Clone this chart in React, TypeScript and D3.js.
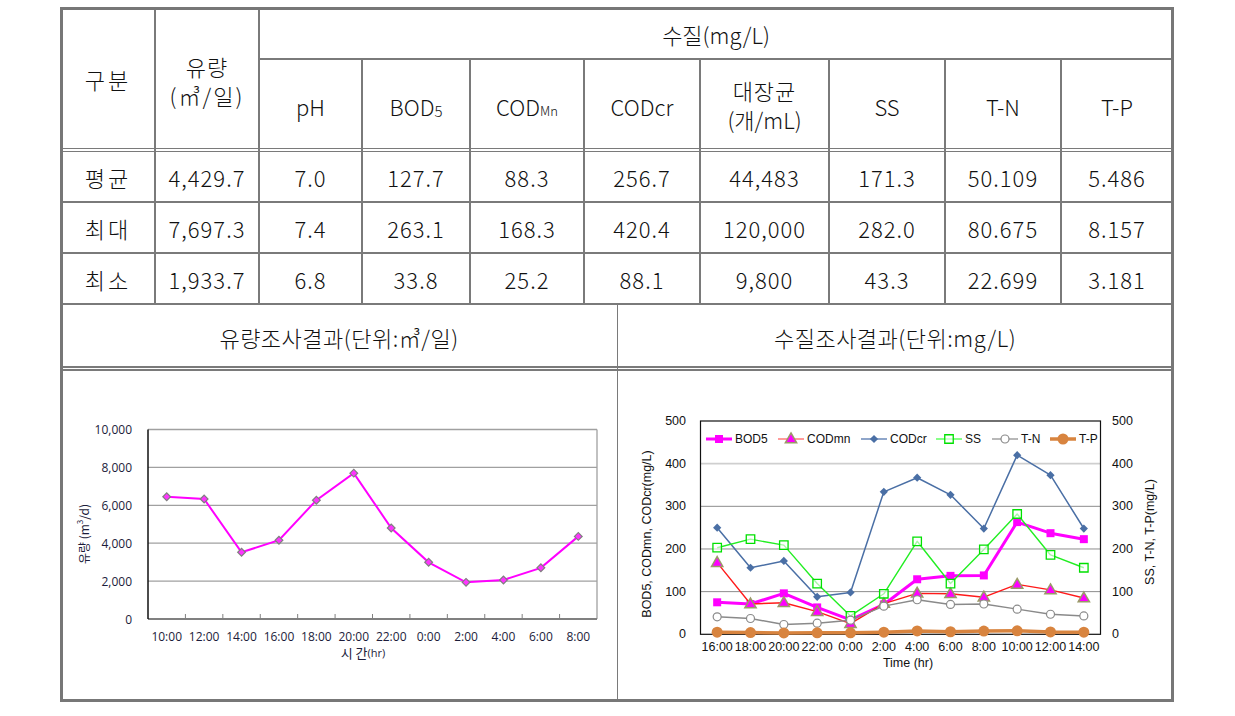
import React from 'react';
import * as d3 from 'd3';

// ---------- table data ----------
const ROW_LABELS = ['평균', '최대', '최소'];
const COL_FLOW = ['4,429.7', '7,697.3', '1,933.7'];
const COL_PH = ['7.0', '7.4', '6.8'];
const COL_BOD = ['127.7', '263.1', '33.8'];
const COL_CODMN = ['88.3', '168.3', '25.2'];
const COL_CODCR = ['256.7', '420.4', '88.1'];
const COL_ECOLI = ['44,483', '120,000', '9,800'];
const COL_SS = ['171.3', '282.0', '43.3'];
const COL_TN = ['50.109', '80.675', '22.699'];
const COL_TP = ['5.486', '8.157', '3.181'];

// ---------- flow chart data ----------
const FLOW_TIMES = ['10:00', '12:00', '14:00', '16:00', '18:00', '20:00', '22:00', '0:00', '2:00', '4:00', '6:00', '8:00'];
const FLOW = [6450, 6330, 3520, 4160, 6270, 7697, 4800, 2990, 1934, 2060, 2700, 4360];
const FLOW_TICKS = [0, 2000, 4000, 6000, 8000, 10000];

// ---------- water quality chart data ----------
const WQ_TIMES = ['16:00', '18:00', '20:00', '22:00', '0:00', '2:00', '4:00', '6:00', '8:00', '10:00', '12:00', '14:00'];
const BOD5 = [75, 71, 96, 63, 34, 70, 129, 137, 138, 263, 237, 223];
const CODMN = [168, 71, 74, 53, 25, 72, 96, 95, 87, 117, 104, 85];
const CODCR = [250, 156, 172, 88, 98, 334, 367, 327, 248, 420, 373, 248];
const SS = [203, 223, 209, 119, 43, 95, 218, 119, 199, 282, 186, 156];
const TN = [41, 37, 23, 26, 33, 66, 81, 70, 71, 59, 47, 43];
const TP = [5, 4, 3.2, 3.5, 3.5, 5, 8, 6, 7.5, 8.2, 5.5, 5];
const WQ_TICKS = [0, 100, 200, 300, 400, 500];

const KR = '"Noto Sans CJK KR", sans-serif';
const ARIAL = '"Liberation Sans", Arial, sans-serif';
const OPEN = '"Open Sans", "Noto Sans", sans-serif';
const LINE = '#7a7a7a';

function Cell({ x, y, children, size = 22, spacing = 0 }: any) {
  return (
    <text
      x={x}
      y={y}
      textAnchor="middle"
      dominantBaseline="central"
      fontFamily={KR}
      fontSize={size}
      fontWeight={300}
      letterSpacing={spacing}
      fill="#111"
    >
      {children}
    </text>
  );
}

function Marker({ kind, x, y }: { kind: string; x: number; y: number }) {
  const sq = d3.symbol().type(d3.symbolSquare);
  if (kind === 'bod') return <path d={sq.size(64)() as string} transform={`translate(${x},${y})`} fill="#ff00ff" />;
  if (kind === 'codmn')
    return (
      <path d={d3.symbol().type(d3.symbolTriangle).size(55)() as string} transform={`translate(${x},${y + 0.5})`} fill="#ff00ff" stroke="#9a9a68" strokeWidth={1.5} />
    );
  if (kind === 'codcr') return <path d={sq.size(34)() as string} transform={`translate(${x},${y}) rotate(45)`} fill="#4a6fa5" />;
  if (kind === 'ss') return <path d={sq.size(72)() as string} transform={`translate(${x},${y})`} fill="white" fillOpacity={0.6} stroke="#00e000" strokeWidth={1.3} />;
  if (kind === 'tn') return <circle cx={x} cy={y} r={4} fill="white" stroke="#8a8a8a" strokeWidth={1.2} />;
  if (kind === 'tp') return <circle cx={x} cy={y} r={5.5} fill="#d8843f" />;
  return null;
}

export default function App() {
  // ---------- table geometry ----------
  const colX = [61, 155, 259, 362, 470, 584, 700, 829, 945, 1061, 1173];
  const mid = (i: number) => (colX[i] + colX[i + 1]) / 2;
  const rowY = [152, 202, 253, 304];
  const rowMid = (i: number) => (rowY[i] + rowY[i + 1]) / 2;
  const cols = [COL_FLOW, COL_PH, COL_BOD, COL_CODMN, COL_CODCR, COL_ECOLI, COL_SS, COL_TN, COL_TP];

  // ---------- flow chart ----------
  const fx = d3.scaleBand().domain(FLOW_TIMES).range([148, 597]);
  const fy = d3.scaleLinear().domain([0, 10000]).range([619, 429.5]);
  const fcx = (t: string) => (fx(t) as number) + fx.bandwidth() / 2;
  const flowLine = d3.line<number>().x((_, i) => fcx(FLOW_TIMES[i])).y((d) => fy(d))(FLOW) as string;
  const fmt = d3.format(',');

  // ---------- water quality chart ----------
  const wx = d3.scaleBand().domain(WQ_TIMES).range([700.5, 1100.5]);
  const wy = d3.scaleLinear().domain([0, 500]).range([634.3, 421]);
  const wcx = (t: string) => (wx(t) as number) + wx.bandwidth() / 2;
  const wline = (arr: number[]) => d3.line<number>().x((_, i) => wcx(WQ_TIMES[i])).y((d) => wy(d))(arr) as string;

  const series = [
    { key: 'bod', name: 'BOD5', data: BOD5, color: '#ff00ff', width: 3, legendColor: '#ff00ff' },
    { key: 'codmn', name: 'CODmn', data: CODMN, color: '#ff1a1a', width: 1.4, legendColor: '#ff7070' },
    { key: 'codcr', name: 'CODcr', data: CODCR, color: '#4a6fa5', width: 1.5, legendColor: '#6a88b8' },
    { key: 'ss', name: 'SS', data: SS, color: '#22ee22', width: 1.4, legendColor: '#55ff55' },
    { key: 'tn', name: 'T-N', data: TN, color: '#8a8a8a', width: 1.4, legendColor: '#9a9a9a' },
    { key: 'tp', name: 'T-P', data: TP, color: '#d8843f', width: 3.5, legendColor: '#d8843f' },
  ];
  const legendX = [706, 778, 861, 936, 992, 1050];
  const legendY = 439;

  return (
    <svg width={1235} height={716} style={{ position: 'absolute', left: 0, top: 0, background: 'white' }}>
      <rect x={0} y={0} width={1235} height={716} fill="white" />

      {/* ---------- table lines ---------- */}
      <g stroke={LINE} strokeWidth={1.3} shapeRendering="crispEdges">
        <line x1={259} x2={1173} y1={59} y2={59} />
        <line x1={61} x2={1173} y1={148.5} y2={148.5} />
        <line x1={61} x2={1173} y1={151.5} y2={151.5} />
        <line x1={61} x2={1173} y1={202} y2={202} />
        <line x1={61} x2={1173} y1={253} y2={253} />
        <line x1={61} x2={1173} y1={304} y2={304} />
        <line x1={61} x2={1173} y1={367} y2={367} />
        <line x1={61} x2={1173} y1={370} y2={370} />
        <line x1={155} x2={155} y1={8} y2={304} />
        <line x1={259} x2={259} y1={8} y2={304} />
        {colX.slice(3, 10).map((x) => (
          <line key={x} x1={x} x2={x} y1={59} y2={304} />
        ))}
        <line x1={617.5} x2={617.5} y1={304} y2={702} />
      </g>
      <rect x={61.5} y={8.5} width={1111} height={692} fill="none" stroke="#777" strokeWidth={3} />

      {/* ---------- table headers ---------- */}
      <Cell x={108} y={79} spacing={3}>구분</Cell>
      <Cell x={207} y={66} spacing={1}>유량</Cell>
      <Cell x={207} y={95} spacing={2}>(㎥/일)</Cell>
      <Cell x={716} y={34}>수질(mg/L)</Cell>
      <Cell x={mid(2)} y={106}>pH</Cell>
      <text x={mid(3)} y={106} textAnchor="middle" dominantBaseline="central" fontFamily={KR} fontWeight={300} fontSize={22} fill="#111">
        BOD<tspan fontSize={15} dy={4}>5</tspan>
      </text>
      <text x={mid(4)} y={106} textAnchor="middle" dominantBaseline="central" fontFamily={KR} fontWeight={300} fontSize={22} fill="#111">
        COD<tspan fontSize={13} dy={4}>Mn</tspan>
      </text>
      <Cell x={mid(5)} y={106}>CODcr</Cell>
      <Cell x={mid(6)} y={90} spacing={1}>대장균</Cell>
      <Cell x={mid(6)} y={119}>(개/mL)</Cell>
      <Cell x={mid(7)} y={106}>SS</Cell>
      <Cell x={mid(8)} y={106}>T-N</Cell>
      <Cell x={mid(9)} y={106}>T-P</Cell>

      {ROW_LABELS.map((r, i) => (
        <Cell key={r} x={108} y={rowMid(i)} spacing={3}>
          {r}
        </Cell>
      ))}
      {cols.map((col, ci) =>
        col.map((v, ri) => (
          <Cell key={`${ci}-${ri}`} x={mid(ci + 1)} y={rowMid(ri)} spacing={1}>
            {v}
          </Cell>
        ))
      )}

      <Cell x={339} y={337} spacing={0.5}>유량조사결과(단위:㎥/일)</Cell>
      <Cell x={895} y={337} spacing={0.5}>수질조사결과(단위:mg/L)</Cell>

      {/* ---------- flow chart ---------- */}
      <g>
        {FLOW_TICKS.map((t) => (
          <line key={t} x1={148} x2={597} y1={fy(t)} y2={fy(t)} stroke="#a0a0a0" strokeWidth={1.3} />
        ))}
        <line x1={597} x2={597} y1={fy(10000)} y2={fy(0)} stroke="#a0a0a0" strokeWidth={1.3} />
        <line x1={148} x2={597} y1={fy(0)} y2={fy(0)} stroke="#808080" strokeWidth={2} />
        <line x1={148} x2={148} y1={fy(10000)} y2={fy(0)} stroke="#111" strokeWidth={1.5} />
        {FLOW_TIMES.slice(1).map((t) => (
          <line key={t} x1={fx(t) as number} x2={fx(t) as number} y1={fy(0)} y2={fy(0) - 5} stroke="#808080" strokeWidth={1} />
        ))}
        {FLOW_TICKS.map((t) => (
          <text key={t} x={132} y={fy(t)} textAnchor="end" dominantBaseline="central" fontFamily={OPEN} fontSize={12} fill="#1c1c3a">
            {fmt(t)}
          </text>
        ))}
        {FLOW_TIMES.map((t) => (
          <text key={t} x={fcx(t)} y={636} textAnchor="middle" dominantBaseline="central" fontFamily={OPEN} fontSize={12} fill="#1c1c3a">
            {t}
          </text>
        ))}
        <text x={363} y={652} textAnchor="middle" dominantBaseline="central" fontFamily={KR} fontSize={13} fill="#1c1c3a">
          시 간<tspan fontFamily={OPEN} fontSize={11}>(hr)</tspan>
        </text>
        <text transform="translate(83,534) rotate(-90)" textAnchor="middle" dominantBaseline="central" fontFamily={KR} fontSize={12} fill="#1c1c3a">
          유량 (m<tspan fontSize={8} dy={-4}>3</tspan>
          <tspan dy={4}>/d)</tspan>
        </text>
        <path d={flowLine} fill="none" stroke="#ff00ff" strokeWidth={2} />
        {FLOW.map((v, i) => (
          <path
            key={i}
            d={d3.symbol().type(d3.symbolSquare).size(30)() as string}
            transform={`translate(${fcx(FLOW_TIMES[i])},${fy(v)}) rotate(45)`}
            fill="#ff33ff"
            stroke="#808080"
            strokeWidth={1.2}
          />
        ))}
      </g>

      {/* ---------- water quality chart ---------- */}
      <g>
        {WQ_TICKS.slice(1, 5).map((t) => (
          <line key={t} x1={700.5} x2={1100.5} y1={wy(t)} y2={wy(t)} stroke={t === 400 ? '#cfcfcf' : '#8c8c8c'} strokeWidth={t === 400 ? 1.6 : 1} />
        ))}
        <rect x={700.5} y={wy(500)} width={400} height={wy(0) - wy(500)} fill="none" stroke="#111" strokeWidth={1.2} />
        {WQ_TICKS.map((t) => (
          <g key={t}>
            <text x={686} y={wy(t)} textAnchor="end" dominantBaseline="central" fontFamily={ARIAL} fontSize={12.5} fill="#111">
              {t}
            </text>
            <text x={1112} y={wy(t)} textAnchor="start" dominantBaseline="central" fontFamily={ARIAL} fontSize={12.5} fill="#111">
              {t}
            </text>
          </g>
        ))}
        {WQ_TIMES.map((t) => (
          <text key={t} x={wcx(t)} y={647} textAnchor="middle" dominantBaseline="central" fontFamily={ARIAL} fontSize={12.5} fill="#111">
            {t}
          </text>
        ))}
        <text x={908} y={663} textAnchor="middle" dominantBaseline="central" fontFamily={ARIAL} fontSize={12.5} fill="#111">
          Time (hr)
        </text>
        <text transform="translate(647,534) rotate(-90)" textAnchor="middle" dominantBaseline="central" fontFamily={ARIAL} fontSize={12.5} fill="#111">
          BOD5, CODmn, CODcr(mg/L)
        </text>
        <text transform="translate(1150,532) rotate(-90)" textAnchor="middle" dominantBaseline="central" fontFamily={ARIAL} fontSize={12.5} fill="#111">
          SS, T-N, T-P(mg/L)
        </text>

        {series.map((s) => (
          <g key={s.key}>
            <path d={wline(s.data)} fill="none" stroke={s.color} strokeWidth={s.width} strokeLinejoin="round" />
            {s.data.map((v, i) => (
              <Marker key={i} kind={s.key} x={wcx(WQ_TIMES[i])} y={wy(v)} />
            ))}
          </g>
        ))}

        {series.map((s, i) => (
          <g key={s.key}>
            <line x1={legendX[i]} x2={legendX[i] + 26} y1={legendY} y2={legendY} stroke={s.legendColor} strokeWidth={s.width} />
            <Marker kind={s.key} x={legendX[i] + 13} y={legendY} />
            <text x={legendX[i] + 29} y={legendY} dominantBaseline="central" fontFamily={ARIAL} fontSize={12} fill="#111">
              {s.name}
            </text>
          </g>
        ))}
      </g>
    </svg>
  );
}
